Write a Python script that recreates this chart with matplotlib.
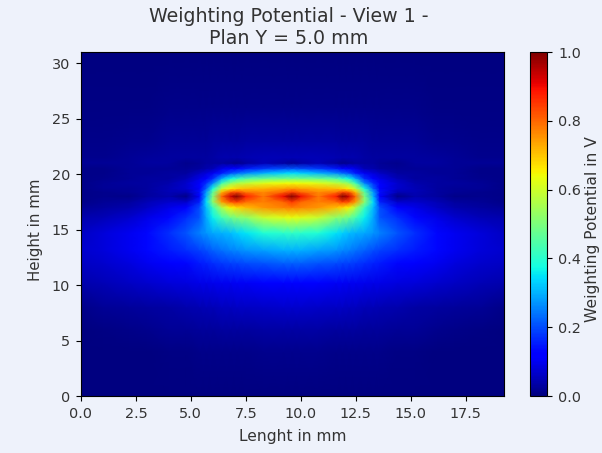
import matplotlib
matplotlib.use('Agg')
import matplotlib.pyplot as plt
import numpy as np

# Values (potential in V) on an uneven grid, finer near the electrode.
# The map looks symmetric around the middle peak, so only the left half is listed.
lengths = [0, 1, 2.2, 3, 4, 4.8, 5.4, 5.7, 6, 6.4, 6.8, 7.1, 7.5, 8.3, 9.2, 9.6,
           10.0, 10.8, 11.6, 11.9, 12.2, 12.5, 12.9, 13.3, 13.6, 14.4, 15.2, 16.2, 17, 18.2, 19.25]
heights = [0, 4, 6, 8, 10.2, 12, 13.15, 14.7, 16.1, 17, 17.5, 18, 18.4, 18.7, 19.2, 19.6,
           20.1, 20.5, 21, 21.5, 23, 26, 31]
potentialLeft = [
    [0, 0, 0, 0, 0, 0, 0, 0, 0, 0, 0, 0, 0, 0, 0, 0],
    [0, 0, 0, 0, .005, .005, .01, .01, .01, .01, .01, .01, .01, .015, .015, .015],
    [0, .005, .01, .015, .02, .02, .025, .025, .025, .03, .03, .03, .03, .035, .035, .035],
    [.01, .02, .025, .03, .035, .04, .045, .05, .05, .055, .055, .06, .06, .065, .07, .07],
    [.04, .05, .06, .07, .08, .085, .09, .09, .095, .10, .10, .105, .105, .11, .115, .115],
    [.06, .07, .085, .10, .12, .13, .15, .16, .17, .18, .19, .195, .20, .21, .22, .22],
    [.07, .08, .10, .13, .15, .17, .19, .20, .22, .235, .25, .26, .27, .285, .30, .30],
    [.06, .08, .10, .13, .17, .21, .25, .27, .29, .30, .31, .33, .35, .39, .40, .41],
    [.04, .05, .07, .09, .13, .17, .21, .29, .36, .43, .48, .51, .52, .59, .62, .63],
    [.02, .03, .04, .06, .09, .12, .20, .31, .42, .56, .65, .68, .71, .75, .77, .78],
    [.01, .02, .03, .05, .07, .07, .16, .34, .52, .74, .82, .84, .79, .77, .80, .85],
    [.01, .015, .01, .03, .04, .01, .12, .30, .50, .80, .93, 1.0, .88, .78, .90, 1.0],
    [.01, .015, .02, .03, .05, .05, .14, .28, .46, .71, .81, .83, .78, .76, .80, .84],
    [.01, .02, .02, .03, .05, .07, .12, .22, .38, .58, .66, .69, .71, .72, .74, .75],
    [.01, .02, .03, .03, .04, .07, .11, .17, .25, .42, .52, .56, .58, .62, .64, .64],
    [.01, .015, .02, .03, .03, .05, .09, .12, .17, .29, .37, .41, .45, .48, .49, .49],
    [.01, .01, .02, .02, .03, .03, .06, .08, .10, .15, .20, .23, .26, .30, .33, .34],
    [.01, .01, .02, .02, .02, .02, .03, .04, .05, .09, .11, .13, .15, .18, .20, .21],
    [.02, .02, .02, .03, .03, .015, .02, .03, .03, .03, .02, .015, .03, .05, .035, .02],
    [.015, .015, .02, .025, .03, .03, .03, .03, .035, .04, .04, .04, .045, .05, .05, .05],
    [.01, .01, .015, .015, .02, .02, .02, .02, .025, .025, .025, .025, .03, .03, .03, .03],
    [.005, .005, .005, .005, .01, .01, .01, .01, .01, .01, .01, .01, .01, .01, .01, .01],
    [0, 0, 0, 0, 0, 0, 0, 0, 0, 0, 0, 0, 0, 0, 0, 0],
]

bgColor = '#eef2fb'
textColor = '#333333'

left = np.array(potentialLeft)
potential = np.hstack([left, left[:, -2::-1]])

fig = plt.figure(figsize=(6.02, 4.53), dpi=100, facecolor=bgColor)
ax = fig.add_axes([81 / 602, 1 - 396 / 453, 423 / 602, 344 / 453])
cax = fig.add_axes([530 / 602, 1 - 396 / 453, 17 / 602, 344 / 453])

mesh = ax.pcolormesh(lengths, heights, potential, shading='gouraud', cmap='jet', vmin=0, vmax=1)
ax.set_xlim(0, 19.25)
ax.set_ylim(0, 31)
ax.set_xticks(np.arange(0, 18, 2.5))
ax.set_yticks(np.arange(0, 31, 5))
ax.set_xlabel('Lenght in mm', fontsize=11.2, color=textColor, labelpad=6)
ax.set_ylabel('Height in mm', fontsize=10.8, color=textColor, labelpad=6, y=0.484)
ax.set_title('Weighting Potential - View 1 -\nPlan Y = 5.0 mm', fontsize=13.7, color=textColor, pad=6, linespacing=1.2, x=0.4905)
ax.tick_params(labelsize=10.4, labelcolor=textColor, pad=4.5)

bar = fig.colorbar(mesh, cax=cax)
bar.set_label('Weighting Potential in V', fontsize=11.2, color=textColor, labelpad=3, y=0.485)
bar.set_ticks([0, 0.2, 0.4, 0.6, 0.8, 1.0])
bar.ax.tick_params(labelsize=10.4, labelcolor=textColor, pad=4.5)

fig.savefig('out.png', dpi=100, facecolor=bgColor)
